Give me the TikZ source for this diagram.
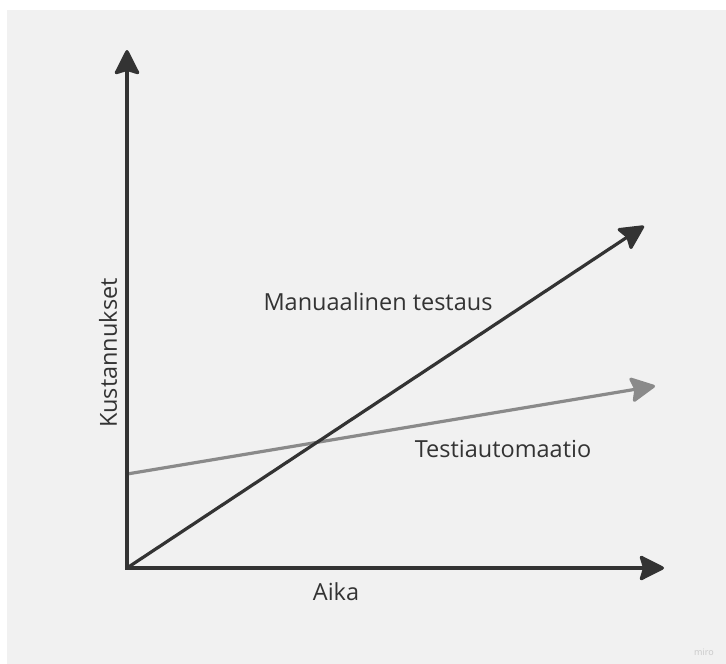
\documentclass[tikz,border=0pt]{standalone}
\usepackage{fontspec}
\setmainfont{Open Sans}
\usetikzlibrary{arrows.meta}
\definecolor{bgc}{HTML}{F1F1F1}
\definecolor{axc}{HTML}{333333}
\definecolor{grc}{HTML}{8A8A8A}
\definecolor{txc}{HTML}{333333}
\definecolor{wmc}{HTML}{C8C8C8}
\tikzset{
  axisline/.style={line width=3.2pt, draw=axc, -{Stealth[length=27pt,width=27pt,inset=4pt,round]}},
  autoline/.style={line width=3.2pt, draw=grc, -{Stealth[length=27pt,width=27pt,inset=4pt,round]}},
  lbl/.style={text=txc, font=\fontsize{23.5}{28}\selectfont, inner sep=0pt},
}
\begin{document}
\begin{tikzpicture}[x=1pt,y=-1pt]
\useasboundingbox (0,0) rectangle (726,664);
\fill[white] (0,0) rectangle (726,664);
\fill[bgc] (7,10) rectangle (726,664);
\coordinate (O) at (127,568);
\coordinate (ytip) at (127,50);
\coordinate (xtip) at (664,568);
\coordinate (mtip) at (644,226);
\coordinate (astart) at (127,474);
\coordinate (atip) at (655,386);
\draw[autoline] (astart) -- (atip);
\draw[axisline] (O) -- (mtip);
\draw[axisline] ([yshift=1.6pt]O) -- (ytip);
\draw[axisline] ([xshift=-1.6pt]O) -- (xtip);
\node[lbl] (man) at (378,302) {Manuaalinen testaus};
\node[lbl] (aut) at (503,449) {Testiautomaatio};
\node[lbl] (aika) at (336,592) {Aika};
\node[lbl, rotate=90] (kust) at (108,353) {Kustannukset};
\node[text=wmc, font=\fontsize{9}{10}\selectfont, inner sep=0pt] (miro) at (704,652) {miro};
\end{tikzpicture}
\end{document}
